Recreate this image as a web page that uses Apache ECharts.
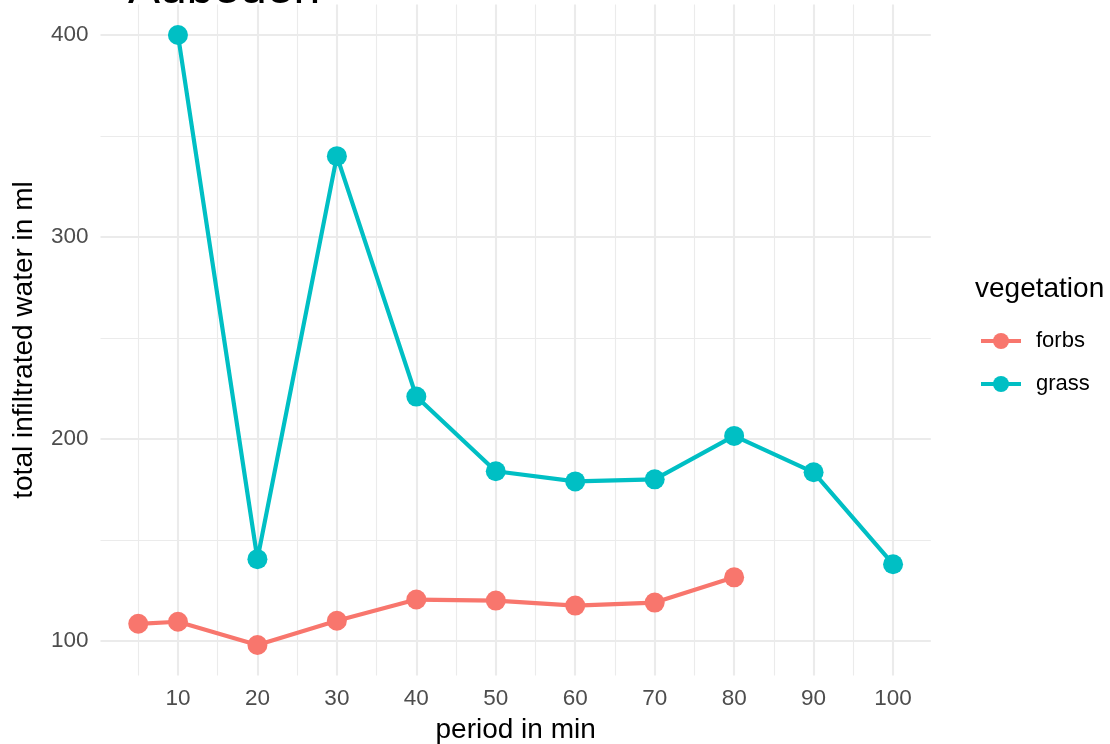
<!DOCTYPE html>
<html>
<head>
<meta charset="utf-8">
<script src="https://cdn.jsdelivr.net/npm/echarts@6/dist/echarts.min.js"></script>
<style>html,body{margin:0;padding:0;background:#fff}#c{width:1110px;height:744px}</style>
</head>
<body>
<div id="c"></div>
<script>
const titleText = 'Aubeden';
const xTicks = [10, 20, 30, 40, 50, 60, 70, 80, 90, 100];
const xMinor = [5, 15, 25, 35, 45, 55, 65, 75, 85, 95];
const yTicks = [100, 200, 300, 400];
const yMinor = [150, 250, 350];
const forbsX = [5, 10, 20, 30, 40, 50, 60, 70, 80];
const forbsY = [108.5, 109.5, 98, 110, 120.5, 120, 117.5, 119, 131.5];
const grassX = [10, 20, 30, 40, 50, 60, 70, 80, 90, 100];
const grassY = [400, 140.5, 340, 221, 184, 179, 180, 201.5, 183.5, 138];

const FONT = 'Liberation Sans, Arial, sans-serif';
const xMin = 0.25, xMax = 104.75, yMin = 82.9, yMax = 415.1;

const gridLines = [];
xMinor.forEach(v => gridLines.push({xAxis: v, lineStyle: {color: '#EBEBEB', width: 1.1, type: 'solid'}}));
yMinor.forEach(v => gridLines.push({yAxis: v, lineStyle: {color: '#EBEBEB', width: 1.1, type: 'solid'}}));
xTicks.forEach(v => gridLines.push({xAxis: v, lineStyle: {color: '#EBEBEB', width: 2.1, type: 'solid'}}));
yTicks.forEach(v => gridLines.push({yAxis: v, lineStyle: {color: '#EBEBEB', width: 2.1, type: 'solid'}}));

const chart = echarts.init(document.getElementById('c'), null, {renderer: 'canvas'});
chart.setOption({
  animation: false,
  backgroundColor: '#fff',
  grid: {left: 100.5, top: 4.5, width: 830.3, height: 671, outerBoundsMode: 'none', containLabel: false},
  graphic: [
    {type: 'text', x: 128, y: 14, z: 100,
     style: {text: titleText, font: '48px ' + FONT, fill: '#000', verticalAlign: 'bottom', align: 'left'}},
    {type: 'text', x: 975, y: 289,
     style: {text: 'vegetation', font: '28px ' + FONT, fill: '#000', verticalAlign: 'middle', align: 'left'}}
  ],
  legend: {
    orient: 'vertical', left: 974, top: 325,
    itemWidth: 40, itemHeight: 20, itemGap: 21,
    lineStyle: {width: 4},
    textStyle: {fontFamily: FONT, fontSize: 22, color: '#000', padding: [0, 0, 0, 10]},
    data: ['forbs', 'grass']
  },
  xAxis: {
    type: 'value', min: xMin, max: xMax,
    name: 'period in min', nameLocation: 'middle', nameGap: 41,
    nameTextStyle: {fontFamily: FONT, fontSize: 28, color: '#000'},
    axisLine: {show: false}, axisTick: {show: false}, splitLine: {show: false},
    axisLabel: {customValues: xTicks, fontFamily: FONT, fontSize: 22.5, color: '#4D4D4D', margin: 12}
  },
  yAxis: {
    type: 'value', min: yMin, max: yMax,
    name: 'total infiltrated water in ml', nameLocation: 'middle', nameGap: 62, nameRotate: 90,
    nameTextStyle: {fontFamily: FONT, fontSize: 28, color: '#000'},
    axisLine: {show: false}, axisTick: {show: false}, splitLine: {show: false},
    axisLabel: {customValues: yTicks, fontFamily: FONT, fontSize: 22.5, color: '#4D4D4D', margin: 12}
  },
  series: [
    {type: 'line', name: '_grid', data: [], z: 0, silent: true,
     markLine: {silent: true, z: 0, symbol: 'none', label: {show: false}, animation: false, data: gridLines}},
    {type: 'line', name: 'forbs', data: forbsX.map((x, i) => [x, forbsY[i]]),
     color: '#F8766D', symbol: 'circle', symbolSize: 20, z: 3,
     lineStyle: {width: 4.2, color: '#F8766D'}, itemStyle: {color: '#F8766D'}},
    {type: 'line', name: 'grass', data: grassX.map((x, i) => [x, grassY[i]]),
     color: '#00BFC4', symbol: 'circle', symbolSize: 20, z: 3,
     lineStyle: {width: 4.2, color: '#00BFC4'}, itemStyle: {color: '#00BFC4'}}
  ]
});
</script>
</body>
</html>
